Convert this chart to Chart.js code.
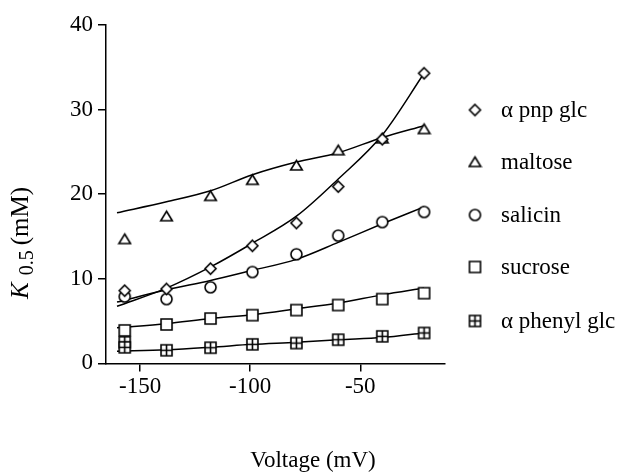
<!DOCTYPE html>
<html>
<head>
<meta charset="utf-8">
<script src="https://cdn.jsdelivr.net/npm/chart.js@4.4.0/dist/chart.umd.min.js"></script>
<style>
  html, body { margin: 0; padding: 0; background: #fff; }
  #wrap { width: 619px; height: 475px; }
</style>
</head>
<body>
<div id="wrap"><canvas id="chart"></canvas></div>
<script>
// measured values (mV, mM)
const voltage = [-157, -138, -118, -99, -79, -60, -40, -21];
const pnpGlc = [8.6, 8.8, 11.2, 13.9, 16.6, 20.9, 26.5, 34.3];
const maltose = [14.7, 17.4, 19.8, 21.7, 23.4, 25.2, 26.6, 27.7];
const salicin = [7.9, 7.6, 9.0, 10.8, 12.9, 15.1, 16.7, 17.9];
const sucrose = [3.9, 4.6, 5.3, 5.7, 6.3, 6.9, 7.6, 8.3];
const phenylVoltage = [-157, -157, -138, -118, -99, -79, -60, -40, -21];
const phenylGlc = [2.5, 1.9, 1.55, 1.85, 2.25, 2.4, 2.8, 3.2, 3.6];

// fitted curves
const fitVoltage = [-160.5, -138, -118, -99, -79, -60, -40, -21];
const pnpFit = [6.75, 8.9, 11.4, 14.2, 17.4, 21.8, 27.0, 34.3];
const maltoseFit = [17.8, 19.1, 20.4, 22.3, 23.8, 24.9, 26.7, 28.1];
const salicinFit = [7.25, 8.7, 9.8, 11.0, 12.3, 14.3, 16.5, 18.5];
const sucroseFit = [4.2, 4.7, 5.3, 5.75, 6.45, 7.15, 8.1, 8.9];
const phenylFit = [1.45, 1.6, 1.9, 2.25, 2.5, 2.8, 3.05, 3.6];

const labels = ["α pnp glc", "maltose", "salicin", "sucrose", "α phenyl glc"];
const xTicks = [-150, -100, -50];
const yTicks = [0, 10, 20, 30, 40];
const xTitle = "Voltage (mV)";

const SERIF = "'Liberation Serif', 'Times New Roman', serif";
Chart.defaults.font.family = SERIF;
Chart.defaults.color = "#000";

function makeMarker(kind) {
  const c = document.createElement("canvas");
  c.width = 15; c.height = 15;
  const g = c.getContext("2d");
  g.lineWidth = 1.6;
  g.strokeStyle = "#000";
  g.fillStyle = "#fff";
  g.beginPath();
  if (kind === "diamond") {
    g.moveTo(7.5, 2); g.lineTo(13, 7.5); g.lineTo(7.5, 13); g.lineTo(2, 7.5); g.closePath();
  } else if (kind === "triangle") {
    g.moveTo(7.5, 2.5); g.lineTo(13.3, 12); g.lineTo(1.7, 12); g.closePath();
  } else if (kind === "circle") {
    g.arc(7.5, 7.5, 5.5, 0, Math.PI * 2);
  } else {
    g.rect(2, 2, 11, 11);
  }
  g.fill();
  g.stroke();
  if (kind === "crossed") {
    g.beginPath();
    g.moveTo(7.5, 2); g.lineTo(7.5, 13);
    g.moveTo(2, 7.5); g.lineTo(13, 7.5);
    g.stroke();
  }
  return c;
}

const markers = ["diamond", "triangle", "circle", "square", "crossed"].map(makeMarker);

const pts = (xs, ys) => ys.map((y, i) => ({ x: xs[i], y: y }));

function markerSet(i, xs, ys) {
  return {
    label: labels[i],
    data: pts(xs, ys),
    showLine: false,
    pointStyle: markers[i],
    pointRadius: 6,
    order: 0,
  };
}

function fitSet(ys) {
  return {
    label: "fit",
    data: pts(fitVoltage, ys),
    showLine: true,
    borderColor: "#000",
    borderWidth: 1.5,
    pointRadius: 0,
    cubicInterpolationMode: "monotone",
    order: 1,
  };
}

// legend drawn at right of plot
const sideLegend = {
  id: "sideLegend",
  afterDraw(chart) {
    const ctx = chart.ctx;
    ctx.save();
    ctx.font = "23px " + SERIF;
    ctx.fillStyle = "#000";
    ctx.textBaseline = "middle";
    ctx.textAlign = "left";
    const rows = [110, 162, 215, 267, 321];
    labels.forEach((t, i) => {
      const m = markers[i];
      ctx.drawImage(m, 475 - m.width / 2, rows[i] - m.height / 2);
      ctx.fillText(t, 501, rows[i] + 1);
    });
    ctx.restore();
  },
};

// axis titles: italic K with subscript, and the voltage label centred on the page
const axisTitles = {
  id: "axisTitles",
  afterDraw(chart) {
    const ctx = chart.ctx;
    ctx.save();
    ctx.fillStyle = "#000";
    ctx.textAlign = "center";
    ctx.textBaseline = "middle";
    ctx.font = "23px " + SERIF;
    ctx.fillText(xTitle, 313, 461);

    ctx.translate(28, 299);
    ctx.rotate(-Math.PI / 2);
    ctx.textBaseline = "alphabetic";
    ctx.textAlign = "left";
    let u = 0;
    ctx.font = "italic 25px " + SERIF;
    ctx.fillText("K", u, 0);
    u += ctx.measureText("K").width + 7;
    ctx.font = "20px " + SERIF;
    ctx.fillText("0.5", u, 5);
    u += ctx.measureText("0.5").width + 5;
    ctx.font = "25px " + SERIF;
    ctx.fillText("(mM)", u, 0);
    ctx.restore();
  },
};

new Chart(document.getElementById("chart"), {
  type: "scatter",
  data: {
    datasets: [
      markerSet(0, voltage, pnpGlc),
      markerSet(1, voltage, maltose),
      markerSet(2, voltage, salicin),
      markerSet(3, voltage, sucrose),
      markerSet(4, phenylVoltage, phenylGlc),
      fitSet(pnpFit),
      fitSet(maltoseFit),
      fitSet(salicinFit),
      fitSet(sucroseFit),
      fitSet(phenylFit),
    ],
  },
  options: {
    responsive: true,
    maintainAspectRatio: false,
    animation: false,
    layout: { padding: { left: 65, right: 174, top: 25, bottom: 72 } },
    plugins: {
      legend: { display: false },
      tooltip: { enabled: false },
    },
    scales: {
      x: {
        type: "linear",
        min: -165.5,
        max: -11.5,
        afterBuildTicks: (s) => { s.ticks = xTicks.map((v) => ({ value: v })); },
        grid: { drawOnChartArea: false, drawTicks: true, tickLength: 8, color: "#000", lineWidth: 1.5 },
        border: { display: true, color: "#000", width: 1.5 },
        ticks: { padding: 2, color: "#000", font: { size: 23 } },
      },
      y: {
        min: 0,
        max: 40,
        afterBuildTicks: (s) => { s.ticks = yTicks.map((v) => ({ value: v })); },
        grid: { drawOnChartArea: false, drawTicks: true, tickLength: 8, color: "#000", lineWidth: 1.5 },
        border: { display: true, color: "#000", width: 1.5 },
        ticks: { padding: 5, color: "#000", font: { size: 23 } },
      },
    },
  },
  plugins: [sideLegend, axisTitles],
});
</script>
</body>
</html>
